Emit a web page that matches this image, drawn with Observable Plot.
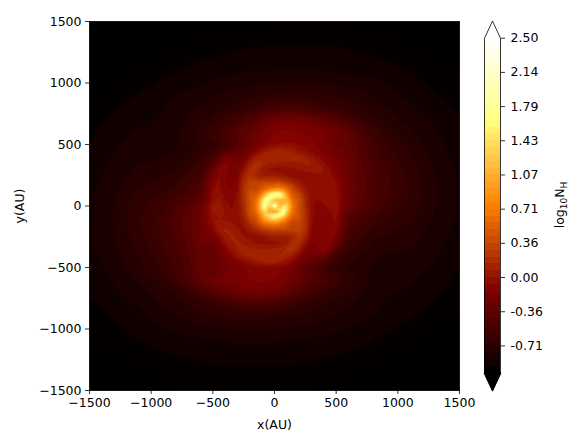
<!DOCTYPE html>
<html><head><meta charset="utf-8">
<script src="https://cdn.jsdelivr.net/npm/d3@7"></script>
<script src="https://cdn.jsdelivr.net/npm/@observablehq/plot@0.6"></script>
<style>html,body{margin:0;padding:0;background:#fff}#w{position:relative;width:585px;height:442px;overflow:hidden}#w svg{position:absolute;top:0;left:0;background:transparent}</style>
</head><body><div id="w"></div>
<script>
const _ = null;
// log10 N_H. Each table has rows top to bottom (y falling), columns left to right (x rising).
const outerX = [-1500,-1300,-1100,-900,-700,-500,-300,-100,100,300,500,700,900,1100,1300,1500];
const outerY = [1500,1300,1100,900,700,500,300,100,-100,-300,-500,-700,-900,-1100,-1300,-1500];
const outerRows = [
[-1.1,-1.08,-1.07,-1.06,-1.05,-1.03,-1.02,-1.01,-1.0,-1.0,-1.0,-1.01,-1.03,-1.05,-1.08,-1.1],
[-1.08,-1.05,-1.03,-1.01,-.99,-.96,-.94,-.93,-.93,-.93,-.93,-.95,-.97,-.99,-1.02,-1.03],
[-1.04,-1.02,-.99,-.95,-.91,-.89,-.87,-.86,-.85,-.85,-.87,-.88,-.9,-.93,-.97,-1.0],
[-1.01,-.97,-.92,-.88,-.84,-.79,-.75,-.72,-.7,-.7,-.72,-.76,-.82,-.88,-.92,-.96],
[-.96,-.91,-.87,-.85,_,_,_,_,_,_,_,_,-.74,-.81,-.87,-.92],
[-.93,-.87,-.82,-.83,_,_,_,_,_,_,_,_,-.63,-.73,-.83,-.9],
[-.9,-.83,-.77,-.75,_,_,_,_,_,_,_,_,-.56,-.68,-.79,-.87],
[-.87,-.79,-.7,-.64,_,_,_,_,_,_,_,_,-.55,-.65,-.78,-.87],
[-.87,-.78,-.65,-.55,_,_,_,_,_,_,_,_,-.64,-.7,-.79,-.87],
[-.87,-.79,-.68,-.56,_,_,_,_,_,_,_,_,-.75,-.77,-.83,-.9],
[-.9,-.83,-.73,-.63,_,_,_,_,_,_,_,_,-.83,-.82,-.87,-.93],
[-.92,-.87,-.81,-.74,_,_,_,_,_,_,_,_,-.85,-.87,-.91,-.96],
[-.96,-.92,-.88,-.82,-.76,-.72,-.7,-.7,-.72,-.75,-.79,-.84,-.88,-.92,-.97,-1.01],
[-1.0,-.97,-.93,-.9,-.88,-.87,-.85,-.85,-.86,-.87,-.89,-.91,-.95,-.99,-1.02,-1.04],
[-1.03,-1.02,-.99,-.97,-.95,-.93,-.93,-.93,-.93,-.94,-.96,-.99,-1.01,-1.03,-1.05,-1.08],
[-1.1,-1.08,-1.05,-1.03,-1.01,-1.0,-1.0,-1.0,-1.01,-1.02,-1.03,-1.05,-1.06,-1.07,-1.08,-1.1]
];
const middleX = [-800,-700,-600,-500,-400,-300,-200,-100,0,100,200,300,400,500,600,700,800];
const middleY = [800,700,600,500,400,300,200,100,0,-100,-200,-300,-400,-500,-600,-700,-800];
const middleRows = [
[-.83,-.81,-.78,-.75,-.72,-.68,-.65,-.6,-.55,-.53,-.53,-.56,-.6,-.64,-.68,-.72,-.76],
[-.82,-.78,-.74,-.68,-.63,-.55,-.45,-.35,-.25,-.22,-.24,-.28,-.35,-.43,-.53,-.63,-.7],
[-.8,-.75,-.68,-.6,-.52,-.43,-.33,-.22,-.14,-.12,-.14,-.16,-.2,-.27,-.35,-.48,-.6],
[-.8,-.76,-.72,_,_,_,_,_,_,_,_,_,_,_,-.33,-.47,-.55],
[-.76,-.72,-.66,_,_,_,_,_,_,_,_,_,_,_,-.3,-.43,-.53],
[-.72,-.66,-.58,_,_,_,_,_,_,_,_,_,_,_,-.28,-.41,-.5],
[-.66,-.6,-.5,_,_,_,_,_,_,_,_,_,_,_,-.27,-.39,-.48],
[-.6,-.53,-.42,_,_,_,_,_,_,_,_,_,_,_,-.27,-.38,-.47],
[-.5,-.42,-.3,_,_,_,_,_,_,_,_,_,_,_,-.3,-.42,-.5],
[-.47,-.38,-.27,_,_,_,_,_,_,_,_,_,_,_,-.42,-.53,-.6],
[-.48,-.39,-.27,_,_,_,_,_,_,_,_,_,_,_,-.5,-.6,-.66],
[-.5,-.41,-.28,_,_,_,_,_,_,_,_,_,_,_,-.58,-.66,-.72],
[-.53,-.43,-.3,_,_,_,_,_,_,_,_,_,_,_,-.66,-.72,-.76],
[-.55,-.47,-.33,_,_,_,_,_,_,_,_,_,_,_,-.72,-.76,-.8],
[-.6,-.48,-.35,-.27,-.2,-.16,-.14,-.12,-.14,-.22,-.33,-.43,-.52,-.6,-.68,-.75,-.8],
[-.7,-.63,-.53,-.43,-.35,-.28,-.24,-.22,-.25,-.35,-.45,-.55,-.63,-.68,-.74,-.78,-.82],
[-.76,-.72,-.68,-.64,-.6,-.56,-.53,-.53,-.55,-.6,-.65,-.68,-.72,-.75,-.78,-.81,-.83]
];
const innerX = [-500,-450,-400,-350,-300,-250,-200,-150,-100,-50,0,50,100,150,200,250,300,350,400,450,500];
const innerY = [500,450,400,350,300,250,200,150,100,50,0,-50,-100,-150,-200,-250,-300,-350,-400,-450,-500];
const innerRows = [
[-.66,-.62,-.56,-.5,-.44,-.38,-.3,-.22,-.16,-.1,-.07,-.06,-.06,-.06,-.08,-.1,-.12,-.15,-.18,-.24,-.3],
[-.6,-.54,-.46,-.4,-.34,-.28,-.2,-.1,-.02,.05,.08,.1,.08,.05,-.01,-.05,-.1,-.13,-.15,-.2,-.26],
[-.54,-.44,-.25,-.26,-.28,-.22,-.08,.04,.12,.14,.13,.12,.11,.11,.1,.07,.01,-.06,-.1,-.16,-.22],
[-.45,-.26,-.13,-.18,-.22,-.14,.06,.16,.14,.09,.07,.06,.06,.06,.07,.08,.07,.01,-.06,-.12,-.18],
[-.33,-.13,-.12,-.18,-.18,-.03,.15,.16,.05,0,-.03,-.04,-.03,-.01,.01,.04,.06,.04,0,-.07,-.15],
[-.22,-.08,-.12,-.18,-.14,.08,.22,.12,.06,.05,.05,.02,-.02,-.05,-.06,-.06,-.05,-.03,-.02,-.04,-.12],
[-.12,-.06,-.14,-.17,-.1,.16,.28,.3,.3,.3,.28,.27,.2,.1,.03,-.05,-.06,-.05,-.04,-.02,-.08],
[-.08,-.06,-.12,-.15,-.08,.2,.34,_,_,_,_,_,_,_,.15,.02,-.04,-.05,-.05,-.03,-.05],
[-.06,-.04,-.1,-.13,-.06,.2,.4,_,_,_,_,_,_,_,.32,.08,-.03,-.05,-.05,-.04,-.02],
[-.04,.02,-.07,-.1,-.05,.18,.42,_,_,_,_,_,_,_,.42,.16,-.04,-.07,-.06,-.04,-.01],
[0,.04,-.03,-.08,-.05,.15,.4,_,_,_,_,_,_,_,.4,.16,-.06,-.1,-.08,-.05,-.01],
[0,.04,0,-.05,-.04,.15,.42,_,_,_,_,_,_,_,.42,.18,-.05,-.1,-.1,-.08,-.04],
[-.02,0,-.02,-.04,-.03,.07,.32,_,_,_,_,_,_,_,.4,.2,-.06,-.12,-.12,-.09,-.06],
[-.06,.06,.05,.02,-.03,.02,.15,_,_,_,_,_,_,_,.34,.2,-.07,-.13,-.13,-.09,-.08],
[-.12,.03,.08,.07,.02,-.03,.04,.1,.2,.26,.3,.3,.3,.3,.3,.18,-.08,-.14,-.12,-.07,-.12],
[-.2,-.08,.04,.08,.06,0,-.04,-.04,-.01,.03,.06,.06,.06,.12,.24,.1,-.1,-.14,-.1,-.08,-.2],
[-.28,-.16,-.02,.06,.08,.06,.03,-.01,-.03,-.03,-.02,.01,.05,.17,.17,-.02,-.14,-.14,-.1,-.12,-.3],
[-.3,-.22,-.12,-.02,.07,.09,.08,.07,.07,.07,.08,.09,.15,.17,.07,-.12,-.2,-.14,-.1,-.2,-.42],
[-.32,-.25,-.2,-.1,.02,.08,.11,.11,.11,.12,.13,.15,.13,.04,-.08,-.2,-.26,-.24,-.25,-.44,-.54],
[-.34,-.28,-.22,-.18,-.13,-.07,-.01,.05,.09,.11,.1,.06,-.01,-.1,-.2,-.28,-.34,-.4,-.46,-.54,-.6],
[-.36,-.3,-.24,-.2,-.17,-.15,-.12,-.1,-.1,-.1,-.1,-.12,-.16,-.22,-.3,-.38,-.44,-.5,-.56,-.62,-.66]
];
const coreX = [-150,-125,-100,-75,-50,-25,0,25,50,75,100,125,150];
const coreY = [150,125,100,75,50,25,0,-25,-50,-75,-100,-125,-150];
const coreRows = [
[.32,.38,.45,.52,.58,.62,.65,.68,.66,.6,.52,.42,.32],
[.38,.46,.58,.7,.84,.98,1.05,1.1,1.05,.88,.7,.5,.38],
[.46,.58,.76,1.05,1.35,1.6,1.72,1.78,1.6,1.25,.88,.62,.44],
[.54,.7,1.05,1.42,1.68,1.72,1.62,1.58,1.55,1.32,1.05,.7,.5],
[.6,.85,1.28,1.68,1.72,1.45,1.25,1.15,1.1,1.12,1.02,.8,.56],
[.64,.95,1.42,1.78,1.55,1.35,1.35,1.2,1.05,1.08,1.12,.9,.62],
[.66,1.0,1.48,1.78,1.4,1.4,2.2,1.35,1.15,1.42,1.32,.98,.66],
[.62,.95,1.38,1.58,1.15,1.1,1.25,1.35,1.4,1.72,1.38,.95,.64],
[.56,.82,1.12,1.28,1.1,1.05,1.05,1.15,1.58,1.72,1.28,.85,.6],
[.5,.7,.98,1.25,1.38,1.52,1.62,1.72,1.72,1.42,1.05,.7,.54],
[.44,.62,.8,1.0,1.2,1.38,1.5,1.38,1.2,1.0,.76,.58,.46],
[.38,.5,.66,.8,.9,.98,1.0,.95,.84,.7,.58,.46,.38],
[.32,.4,.5,.58,.62,.66,.66,.62,.58,.52,.45,.38,.32]
];
const axisTicks = [-1500,-1000,-500,0,500,1000,1500];
const barTicks = [2.5,2.142857,1.785714,1.428571,1.071429,0.714286,0.357143,0,-0.357143,-0.714286];
const barLabels = ["2.50","2.14","1.79","1.43","1.07","0.71","0.36","0.00","-0.36","-0.71"];
const levelMin = -1, levelMax = 2.5, bandCount = 49;
const afmhotStops = ["#000000","#800000","#ff8000","#ffff80","#ffffff"];

const points = [];
function addGrid(xs, ys, rows){
  rows.forEach((r,j)=>r.forEach((v,i)=>{ if(v!==null) points.push({x:xs[i],y:ys[j],v}); }));
}
addGrid(outerX,outerY,outerRows);
addGrid(middleX,middleY,middleRows);
addGrid(innerX,innerY,innerRows);
addGrid(coreX,coreY,coreRows);

const step = (levelMax-levelMin)/bandCount;
const levels = d3.range(bandCount+1).map(i=>levelMin+i*step);
const afmhot = d3.piecewise(d3.interpolateRgb, afmhotStops);
const bandColors = d3.range(bandCount).map(i=>afmhot((i+.5)/bandCount));
const colorRange = ["#000000",...bandColors,"#ffffff"];
const font = {fontFamily:"'DejaVu Sans'",fontSize:"12.5px",color:"#000",background:"transparent",overflow:"visible"};

const main = Plot.plot({
  width:585,height:442,marginLeft:89,marginRight:126,marginTop:21,marginBottom:52,
  style:font,
  x:{domain:[-1500,1500]},y:{domain:[-1500,1500]},
  color:{type:"threshold",domain:levels,range:colorRange},
  marks:[
    Plot.raster(points,{x:"x",y:"y",fill:"v",interpolate:"barycentric",x1:-1500,x2:1500,y1:-1500,y2:1500,pixelSize:1}),
    Plot.frame({stroke:"#000",strokeWidth:.8}),
    Plot.axisX({ticks:axisTicks,tickFormat:d3.format("d"),tickSize:4,tickPadding:4,label:"x(AU)",labelAnchor:"center",labelArrow:"none",labelOffset:38,strokeWidth:.8}),
    Plot.axisY({ticks:axisTicks,tickFormat:d3.format("d"),tickSize:4,tickPadding:4,label:"y(AU)",labelAnchor:"center",labelArrow:"none",labelOffset:74,strokeWidth:.8})
  ]
});

// colour bar: value axis shares the pixel scale of the bar, with triangular extensions past both ends
const capLength = 0.18;
const bands = d3.range(bandCount).map(i=>({y1:levels[i],y2:levels[i+1],c:bandColors[i]}));
const outline = [[0,levelMin],[.5,levelMin-capLength],[1,levelMin],[1,levelMax],[.5,levelMax+capLength],[0,levelMax],[0,levelMin]];
const lowCap = [[0,levelMin],[.5,levelMin-capLength],[1,levelMin],[0,levelMin]];
const bar = Plot.plot({
  width:585,height:442,marginLeft:484,marginRight:85,marginTop:20.5,marginBottom:52,
  style:font,
  x:{domain:[0,1],axis:null},
  y:{domain:[levelMin-capLength,levelMax+capLength],axis:null},
  marks:[
    Plot.rectY(bands,{x1:0,x2:1,y1:"y1",y2:"y2",fill:d=>d.c,shapeRendering:"crispEdges"}),
    Plot.line(lowCap,{x:d=>d[0],y:d=>d[1],fill:"#000",stroke:"#000"}),
    Plot.line(outline,{x:d=>d[0],y:d=>d[1],stroke:"#000",strokeWidth:.8,curve:"linear"}),
    Plot.axisY({anchor:"right",ticks:barTicks,tickFormat:(d,i)=>barLabels[i],tickSize:4,tickPadding:6,label:null,strokeWidth:.8})
  ]
});
const wrap = document.getElementById("w");
wrap.append(main); wrap.append(bar);
// mathtext-style colour bar label with subscripts
const lab = d3.select(bar).append("text").attr("transform","translate(564,205) rotate(-90)")
  .attr("text-anchor","middle").attr("font-family","'DejaVu Sans'").attr("font-size","12.5px").attr("fill","#000");
lab.append("tspan").text("log");
lab.append("tspan").text("10").attr("font-size","9px").attr("dy","2.5");
lab.append("tspan").text("N").attr("dy","-2.5");
lab.append("tspan").text("H").attr("font-size","9px").attr("dy","2.5");
</script></body></html>
